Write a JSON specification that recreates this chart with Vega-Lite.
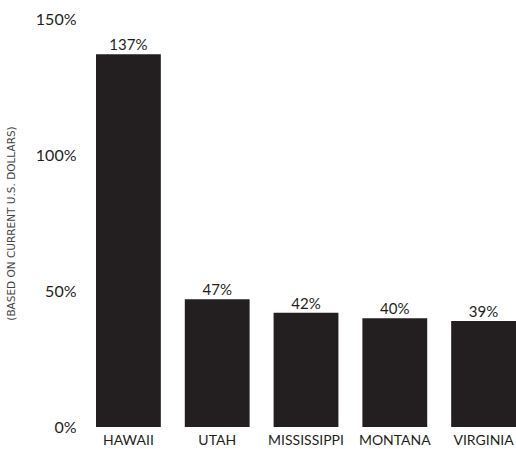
{
  "$schema": "https://vega.github.io/schema/vega-lite/v6.json",
  "width": 420,
  "height": 408,
  "autosize": "none",
  "padding": {"left": 96, "top": 19, "right": 0, "bottom": 22},
  "background": "white",
  "config": {"view": {"stroke": null}, "font": "Lato"},
  "data": {"values": [
    {"state": "HAWAII", "pct": 137, "label": "137%"},
    {"state": "UTAH", "pct": 47, "label": "47%"},
    {"state": "MISSISSIPPI", "pct": 42, "label": "42%"},
    {"state": "MONTANA", "pct": 40, "label": "40%"},
    {"state": "VIRGINIA", "pct": 39, "label": "39%"}
  ]},
  "encoding": {
    "x": {"field": "state", "type": "nominal", "sort": null,
      "scale": {"paddingInner": 0.27, "paddingOuter": 0},
      "axis": {"title": null, "labelAngle": 0, "domain": false, "ticks": false, "labelPadding": 6, "labelFontSize": 14, "labelColor": "#231f20", "labelFont": "Lato"}},
    "y": {"field": "pct", "type": "quantitative",
      "scale": {"domain": [0, 150]},
      "axis": {"values": [0, 50, 100, 150], "labelExpr": "datum.value + '%'", "grid": false, "domain": false, "ticks": false,
        "labelPadding": 20, "labelFontSize": 16, "labelColor": "#231f20", "labelBaseline": "middle",
        "title": "(BASED ON CURRENT U.S. DOLLARS)", "titleFont": "DejaVu Sans", "titleFontSize": 10.5, "titleFontWeight": "normal", "titleColor": "#444444",
        "titleX": -85, "titleY": 204, "titleAngle": -90, "titleAlign": "center", "titleBaseline": "middle"}}
  },
  "layer": [
    {"mark": {"type": "bar", "color": "#231f20"}},
    {"mark": {"type": "text", "baseline": "bottom", "dy": -1, "fontSize": 15, "color": "#231f20"},
     "encoding": {"text": {"field": "label", "type": "nominal"}}}
  ]
}
